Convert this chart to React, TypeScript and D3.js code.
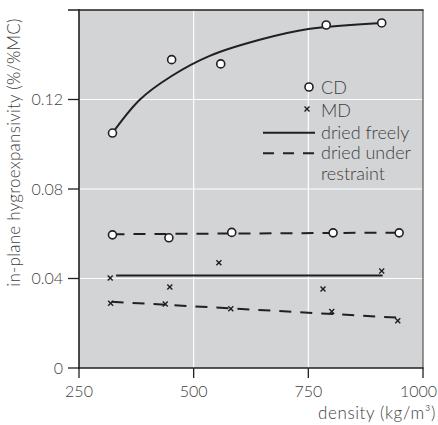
import React from "react";
import * as d3 from "d3";

// CD (circles) measurements
const cdFreeX = [323, 452, 559, 789, 910];
const cdFreeY = [0.105, 0.1378, 0.1359, 0.1533, 0.1542];
const cdRestrX = [323, 446, 583, 804, 948];
const cdRestrY = [0.0595, 0.0582, 0.0606, 0.0604, 0.0604];
// MD (crosses) measurements
const mdFreeX = [318, 448, 555, 782, 910];
const mdFreeY = [0.0402, 0.0362, 0.047, 0.0353, 0.0433];
const mdRestrX = [319, 438, 581, 801, 945];
const mdRestrY = [0.0289, 0.0286, 0.0265, 0.0253, 0.0211];

// fitted trend lines
const cdFreeFitX = [323, 383, 452, 535, 650, 750, 910];
const cdFreeFitY = [0.105, 0.12, 0.1305, 0.1395, 0.147, 0.1515, 0.1542];
const cdRestrFitX = [323, 948];
const cdRestrFitY = [0.0598, 0.0605];
const mdFreeFitX = [331, 912];
const mdFreeFitY = [0.0413, 0.0413];
const mdRestrFitX = [321, 943];
const mdRestrFitY = [0.0296, 0.0225];

const xTicks = [250, 500, 750, 1000];
const yTicks = [0, 0.04, 0.08, 0.12];
const yTickLabels = ["0", "0.04", "0.08", "0.12"];
const legendLabels = ["CD", "MD", "dried freely", "dried under", "restraint"];

const W = 438;
const H = 425;
const L = 79, R = 423, T = 10, B = 368;
const INK = "#231f20";
const TXT = "#3e3e40";
const FONT = "Lato, 'Open Sans', sans-serif";

export default function App() {
  const x = d3.scaleLinear().domain([250, 1000]).range([L, R]);
  const y = d3.scaleLinear().domain([0, 0.16]).range([B, T]);
  const pts = (xs: number[], ys: number[]) => xs.map((v, i) => [v, ys[i]] as [number, number]);
  const curveLine = d3.line<[number, number]>().x(d => x(d[0])).y(d => y(d[1])).curve(d3.curveCatmullRom);
  const straight = d3.line<[number, number]>().x(d => x(d[0])).y(d => y(d[1]));

  const circles = (xs: number[], ys: number[]) =>
    pts(xs, ys).map((p, i) => (
      <circle key={i} cx={x(p[0])} cy={y(p[1])} r={4} fill="#fff" stroke={INK} strokeWidth={1.6} />
    ));
  const cross = (cx: number, cy: number, key: any) => (
    <g key={key} stroke={INK} strokeWidth={1.4}>
      <line x1={cx - 2.5} y1={cy - 2.5} x2={cx + 2.5} y2={cy + 2.5} />
      <line x1={cx - 2.5} y1={cy + 2.5} x2={cx + 2.5} y2={cy - 2.5} />
    </g>
  );
  const crosses = (xs: number[], ys: number[]) => pts(xs, ys).map((p, i) => cross(x(p[0]), y(p[1]), i));

  const dash = "12,9";
  const legX = 321;

  return (
    <svg width={W} height={H} style={{ position: "absolute", left: 0, top: 0 }} fontFamily={FONT} fontWeight={300}>
      <rect x={L} y={T} width={R - L} height={B - T} fill="#d3d4d6" />
      {xTicks.slice(1, 3).map(t => (
        <line key={t} x1={x(t)} x2={x(t)} y1={T} y2={B} stroke="#fff" strokeWidth={1.2} />
      ))}
      {yTicks.slice(1).map(t => (
        <line key={t} x1={L} x2={R} y1={y(t)} y2={y(t)} stroke="#fff" strokeWidth={1.2} />
      ))}
      {/* frame */}
      <line x1={R} x2={R} y1={T} y2={B} stroke="#555" strokeWidth={1.2} />
      <line x1={68} x2={R + 0.6} y1={T} y2={T} stroke={INK} strokeWidth={1.6} />
      <line x1={L} x2={L} y1={T - 0.8} y2={B + 0.8} stroke={INK} strokeWidth={1.6} />
      <line x1={L - 0.8} x2={R + 0.6} y1={B} y2={B} stroke={INK} strokeWidth={1.6} />
      {/* ticks */}
      {yTicks.map((t, i) => (
        <g key={t}>
          <line x1={68} x2={L} y1={y(t)} y2={y(t)} stroke={INK} strokeWidth={1.3} />
          <text x={63} y={y(t)} dy="0.35em" textAnchor="end" fontSize={16} fill={TXT}>{yTickLabels[i]}</text>
        </g>
      ))}
      {xTicks.map((t, i) => (
        <g key={t}>
          <line x1={x(t)} x2={x(t)} y1={B} y2={B + 10} stroke={INK} strokeWidth={1.3} />
          <text x={i === xTicks.length - 1 ? 437 : x(t)} y={397} textAnchor={i === xTicks.length - 1 ? "end" : "middle"} fontSize={16} fill={TXT}>{t}</text>
        </g>
      ))}
      <text x={436} y={419} textAnchor="end" fontSize={17} letterSpacing={0.6} fill={TXT}>density (kg/m³)</text>
      <text transform={`translate(20,${(5 + 300) / 2}) rotate(-90)`} textAnchor="middle" fontSize={17} letterSpacing={0.25} fill={TXT}>
        in-plane hygroexpansivity (%/%MC)
      </text>

      {/* fit lines */}
      <path d={curveLine(pts(cdFreeFitX, cdFreeFitY)) || ""} fill="none" stroke={INK} strokeWidth={2} />
      <path d={straight(pts(cdRestrFitX, cdRestrFitY)) || ""} fill="none" stroke={INK} strokeWidth={2} strokeDasharray={dash} />
      <path d={straight(pts(mdFreeFitX, mdFreeFitY)) || ""} fill="none" stroke={INK} strokeWidth={2} />
      <path d={straight(pts(mdRestrFitX, mdRestrFitY)) || ""} fill="none" stroke={INK} strokeWidth={2} strokeDasharray={dash} />

      {/* markers */}
      {circles(cdFreeX, cdFreeY)}
      {circles(cdRestrX, cdRestrY)}
      {crosses(mdFreeX, mdFreeY)}
      {crosses(mdRestrX, mdRestrY)}

      {/* legend */}
      <circle cx={309} cy={87} r={4} fill="#fff" stroke={INK} strokeWidth={1.6} />
      {cross(307, 109, "lg")}
      <line x1={263} x2={315} y1={132.7} y2={132.7} stroke={INK} strokeWidth={2} />
      <line x1={263} x2={315} y1={153.3} y2={153.3} stroke={INK} strokeWidth={2} strokeDasharray="11,9" />
      <text x={legX} y={93.5} fontSize={18} fill={TXT}>{legendLabels[0]}</text>
      <text x={legX} y={116.5} fontSize={18} fill={TXT}>{legendLabels[1]}</text>
      <text x={legX} y={139} fontSize={18} fill={TXT}>{legendLabels[2]}</text>
      <text x={legX} y={159} fontSize={18} fill={TXT}>{legendLabels[3]}</text>
      <text x={legX} y={180} fontSize={18} fill={TXT}>{legendLabels[4]}</text>
    </svg>
  );
}
